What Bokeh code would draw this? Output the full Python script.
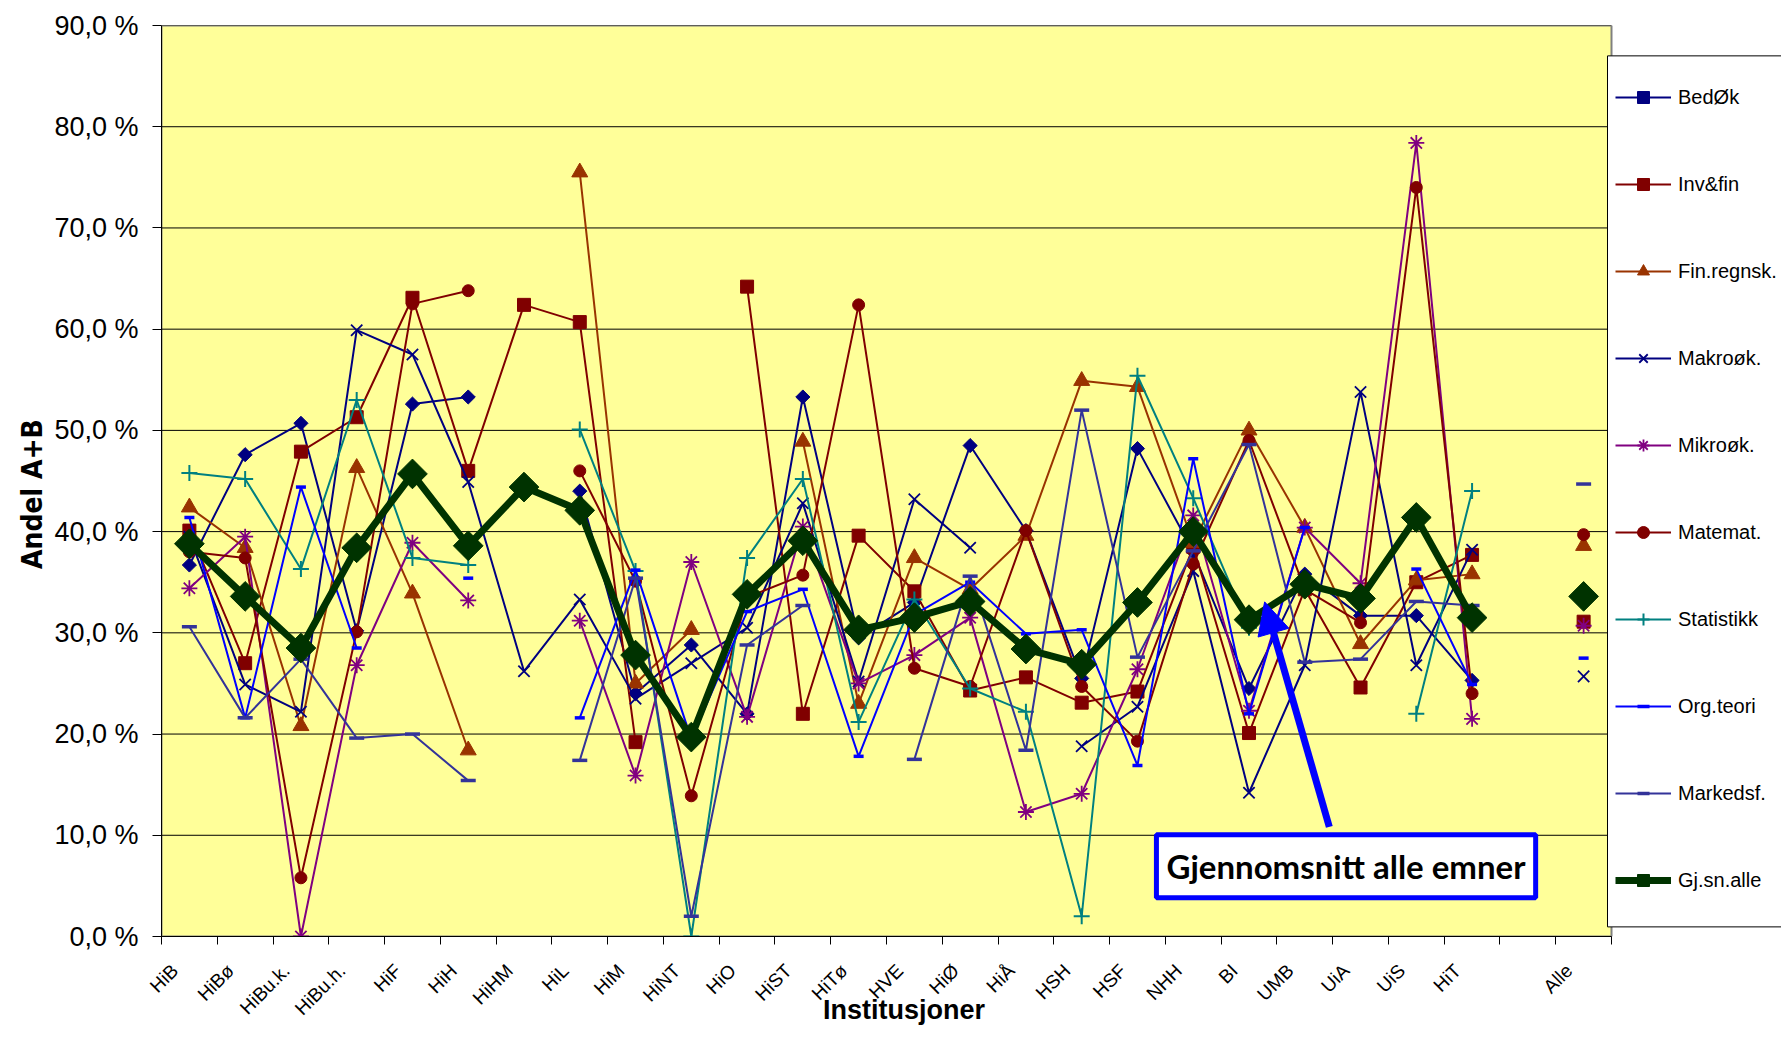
import math
import numpy as np
from bokeh.plotting import figure
from bokeh.models import (Range1d, FixedTicker, CustomJSTickFormatter, Legend, LegendItem,
                          BoxAnnotation, Label, Arrow, NormalHead, ColumnDataSource)
from bokeh.embed import file_html
from bokeh.resources import INLINE

nan = float("nan")

categories = ["HiB", "HiBø", "HiBu.k.", "HiBu.h.", "HiF", "HiH", "HiHM", "HiL", "HiM", "HiNT",
              "HiO", "HiST", "HiTø", "HVE", "HiØ", "HiÅ", "HSH", "HSF", "NHH", "BI",
              "UMB", "UiA", "UiS", "HiT", "", "Alle"]

bedok = [36.7, 47.6, 50.7, 30.2, 52.6, 53.3, nan, 44.0, 24.0, 28.8, 22.0, 53.3, 29.5, 33.0,
         48.5, 40.1, 25.5, 48.2, 38.0, 24.5, 35.8, 31.7, 31.7, 25.3, nan, 33.5]
invfin = [40.1, 27.0, 47.9, 51.3, 63.1, 46.0, 62.4, 60.7, 19.2, nan, 64.2, 22.0, 39.6, 34.1,
          24.3, 25.6, 23.1, 24.2, 38.5, 20.1, 34.3, 24.6, 35.0, 37.7, nan, 31.1]
finregn = [42.4, 38.4, 20.8, 46.3, 33.9, 18.4, nan, 75.5, 25.0, 30.3, nan, 48.9, 23.0, 37.4,
           34.3, 39.6, 54.9, 54.3, 38.9, 50.0, 40.4, 28.9, 35.2, 35.8, nan, 38.6]
makro = [39.5, 24.9, 22.2, 59.9, 57.5, 44.9, 26.2, 33.3, 23.5, 27.0, 30.5, 42.8, 25.2, 43.2,
         38.4, nan, 18.8, 22.7, 36.1, 14.2, 26.8, 53.8, 26.8, 38.2, nan, 25.7]
mikro = [34.4, 39.5, 0.0, 26.8, 38.9, 33.2, nan, 31.2, 15.9, 37.0, 21.7, 40.5, 25.0, 27.8,
         31.5, 12.3, 14.1, 26.4, 41.6, 22.3, 40.4, 34.9, 78.4, 21.5, nan, 30.7]
matemat = [38.0, 37.4, 5.8, 30.1, 62.5, 63.8, nan, 46.0, 35.1, 13.9, 33.5, 35.7, 62.4, 26.5,
           24.7, 40.1, 24.7, 19.3, 36.8, 49.0, 34.3, 31.0, 74.0, 24.0, nan, 39.7]
statistikk = [45.8, 45.2, 36.3, 53.0, 37.4, 36.7, nan, 50.1, 36.1, 0.0, 37.4, 45.2, 21.2, 33.3,
              24.5, 22.2, 2.0, 55.4, 43.3, 30.5, nan, nan, 22.0, 44.0, nan, nan]
orgteori = [41.4, 21.6, 44.4, 28.5, nan, 35.4, nan, 21.6, 36.2, 19.5, 32.1, 34.3, 17.8, 31.8,
            35.0, 29.9, 30.3, 16.9, 47.2, 22.0, 40.4, nan, 36.3, 24.9, nan, 27.5]
markedsf = [30.6, 21.6, 27.4, 19.6, 20.0, 15.4, nan, 17.4, 35.4, 2.0, 28.8, 32.7, nan, 17.5,
            35.6, 18.4, 52.0, 27.6, 38.1, 48.6, 27.1, 27.4, 33.1, 32.7, nan, 44.7]
gjsn = [38.8, 33.6, 28.5, 38.4, 45.7, 38.6, 44.4, 42.1, 27.8, 19.7, 33.8, 39.1, 30.3, 31.5,
        33.1, 28.4, 26.9, 33.0, 40.0, 31.3, 34.8, 33.4, 41.4, 31.5, nan, 33.6]

series_names = ["BedØk", "Inv&fin", "Fin.regnsk.", "Makroøk.", "Mikroøk.", "Matemat.",
                "Statistikk", "Org.teori", "Markedsf.", "Gj.sn.alle"]
series_values = [bedok, invfin, finregn, makro, mikro, matemat, statistikk, orgteori, markedsf, gjsn]

y_ticks = [0, 10, 20, 30, 40, 50, 60, 70, 80, 90]

# styles: color, marker, size, line width, marker angle, marker line width
styles = [
    ("#000080", "square", 10, 2, math.pi / 4, 1),
    ("#800000", "square", 13, 2, 0, 1),
    ("#993300", "triangle", 16, 2, 0, 1),
    ("#000080", "x", 16, 2, 0, 1.8),
    ("#800080", "asterisk", 16, 2, 0, 1.8),
    ("#800000", "circle", 12, 2, 0, 1),
    ("#008080", "cross", 16, 2, 0, 2),
    ("#0000FF", "dash", 10, 2, 0, 3.5),
    ("#333399", "dash", 15, 2, 0, 3.5),
    ("#003300", "square", 21, 7, math.pi / 4, 1),
]

n = len(categories)
xs = [i + 0.5 for i in range(n)]

W, H = 1781, 1051
BL, BT, BB = 161, 25, 115
frame_w = W - BL
unit = 1450 / n                      # px per category inside the yellow plot area
x_end = frame_w / unit               # extra room on the right for the legend

p = figure(width=W, height=H, x_range=Range1d(0, x_end), y_range=Range1d(0, 90),
           output_backend="svg", toolbar_location=None,
           min_border_left=BL, min_border_top=BT, min_border_bottom=BB, min_border_right=0,
           background_fill_color="white", border_fill_color="white")
p.outline_line_color = None
p.xgrid.visible = False
p.ygrid.visible = False

# yellow plot area with grey outline
p.add_layout(BoxAnnotation(left=0, right=n, bottom=0, top=90, fill_color="#FFFF99",
                           fill_alpha=1.0, line_color="#808080", line_alpha=1.0,
                           line_width=2, level="underlay"))

# horizontal grid lines across the plot area only
p.segment(x0=[0] * len(y_ticks), x1=[n] * len(y_ticks), y0=y_ticks, y1=y_ticks,
          line_color="black", line_width=1)

items = []
for name, vals, st in zip(series_names, series_values, styles):
    color, marker, size, lw, ang, mlw = st
    src = ColumnDataSource(dict(x=xs, y=vals))
    r_line = p.line("x", "y", source=src, line_color=color, line_width=lw)
    r_mark = p.scatter("x", "y", source=src, marker=marker, size=size, angle=ang,
                       fill_color=color, line_color=color, line_width=mlw)
    items.append(LegendItem(label=name, renderers=[r_line, r_mark]))

# legend box (white, black border), then the legend itself without its own box
p.add_layout(BoxAnnotation(left=(1607 - BL) / unit, bottom=0.95, top=87.0,
                           fill_color="white", fill_alpha=1.0, line_color="black",
                           line_alpha=1.0, line_width=1))

legend = Legend(items=items, location=(1454, 41), orientation="vertical")
legend.background_fill_alpha = 0.0
legend.border_line_color = None
legend.padding = 8
legend.spacing = 57
legend.label_height = 30
legend.glyph_height = 30
legend.glyph_width = 56
legend.label_standoff = 7
legend.margin = 0
legend.label_text_font = "Liberation Sans"
legend.label_text_font_size = "20px"
legend.label_text_color = "black"
p.add_layout(legend)

# y axis
p.yaxis.ticker = FixedTicker(ticks=y_ticks)
p.yaxis.formatter = CustomJSTickFormatter(code="return tick.toFixed(1).replace('.', ',') + ' %';")
p.yaxis.major_label_text_font = "Liberation Sans"
p.yaxis.major_label_text_font_size = "27px"
p.yaxis.major_label_text_color = "black"
p.yaxis.major_tick_out = 9
p.yaxis.major_tick_in = 0
p.yaxis.minor_tick_out = 0
p.yaxis.minor_tick_in = 0
p.yaxis.axis_line_color = "black"
p.yaxis.major_tick_line_color = "black"
p.yaxis.major_label_standoff = 14
p.yaxis.axis_label = "Andel A+B\u00a0\u00a0\u00a0"
p.yaxis.axis_label_text_font = "'DejaVu Sans Condensed', 'Liberation Sans'"
p.yaxis.axis_label_text_font_style = "bold"
p.yaxis.axis_label_text_font_size = "28px"
p.yaxis.axis_label_text_color = "black"
p.yaxis.axis_label_standoff = 2

# x axis: boundary tick marks (minor) and labels (major, no tick marks)
label_pos = [i + 0.24 for i in range(n)]
p.xaxis.bounds = (0, n)
p.xaxis.ticker = FixedTicker(ticks=label_pos, minor_ticks=list(range(n + 1)))
p.xaxis.formatter = CustomJSTickFormatter(args=dict(labels=categories),
                                          code="return labels[Math.floor(tick)] || '';")
p.xaxis.major_tick_out = 0
p.xaxis.major_tick_in = 0
p.xaxis.minor_tick_out = 8
p.xaxis.minor_tick_in = 0
p.xaxis.minor_tick_line_color = "black"
p.xaxis.axis_line_color = "black"
p.xaxis.major_label_orientation = math.pi / 4
p.xaxis.major_label_text_font = "Liberation Sans"
p.xaxis.major_label_text_font_size = "19px"
p.xaxis.major_label_text_color = "black"
p.xaxis.major_label_standoff = 23
p.xaxis.axis_label = "Institusjoner" + "\u00a0" * 18
p.xaxis.axis_label_text_font = "Liberation Sans"
p.xaxis.axis_label_text_font_style = "bold"
p.xaxis.axis_label_text_font_size = "27px"
p.xaxis.axis_label_text_color = "black"
p.xaxis.axis_label_standoff = -34

# annotation box + arrow
box = BoxAnnotation(left=17.84, right=24.64, bottom=3.82, top=10.04,
                    fill_color="white", fill_alpha=1.0, line_color="#0000FF",
                    line_alpha=1.0, line_width=5)
p.add_layout(box)
lab = Label(x=21.24, y=6.93, text="Gjennomsnitt alle emner", text_align="center",
            text_baseline="middle", text_font="Lato", text_font_style="bold",
            text_font_size="33px", text_color="black")
p.add_layout(lab)
arrow = Arrow(x_start=20.94, y_start=10.83, x_end=19.78, y_end=33.06,
              line_color="#0000FF", line_width=7,
              end=NormalHead(size=32, fill_color="#0000FF", line_color="#0000FF"))
p.add_layout(arrow)

open("out.html", "w").write(file_html(p, INLINE))
